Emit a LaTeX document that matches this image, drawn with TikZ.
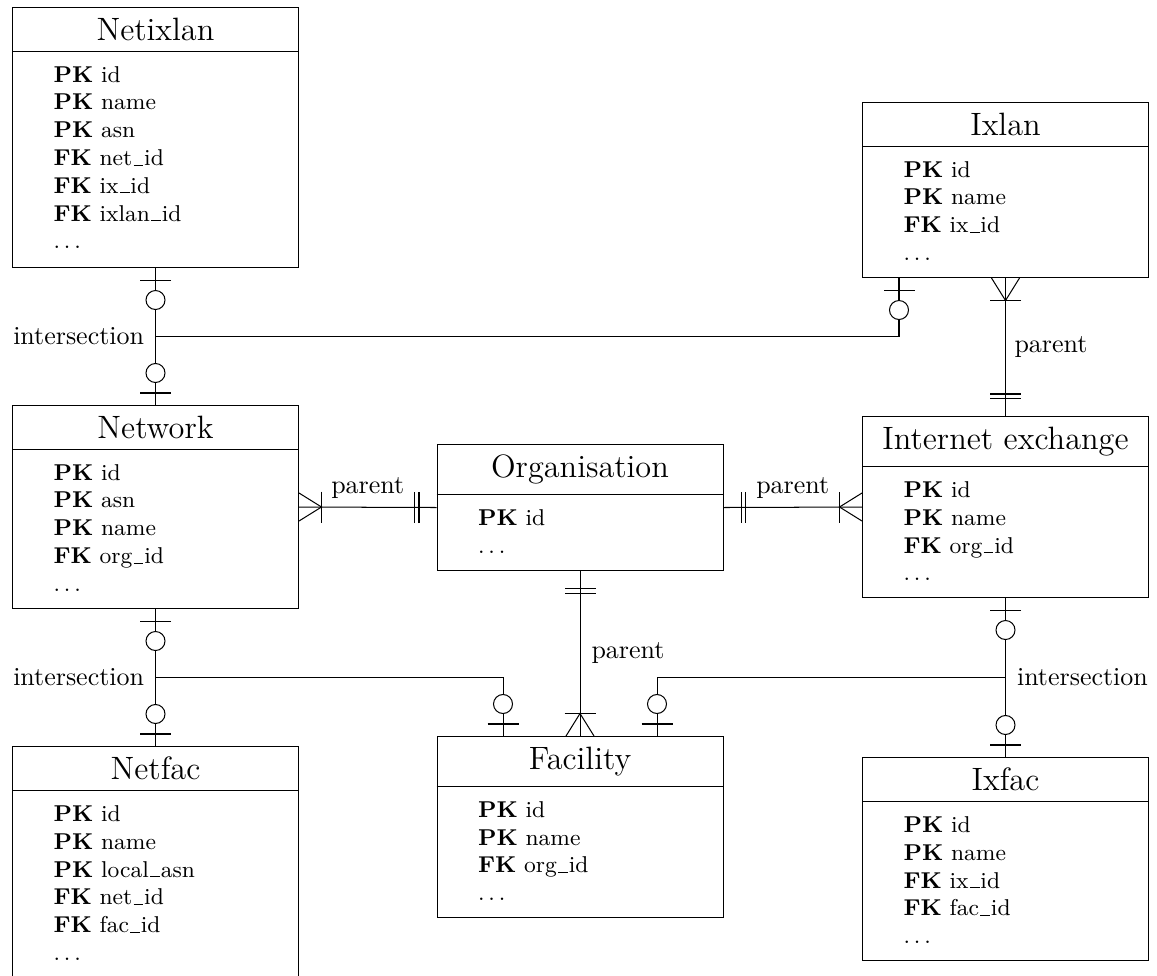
\documentclass[tikz,border=0pt]{standalone}
\usetikzlibrary{calc}

% one drawing unit, used for sizes given as lengths
\newcommand\pxu{0.393pt}
% spaced ellipsis for the "more fields" row
\newcommand\morefields{$\ldots$}
% underscore drawn as a baseline rule
\newcommand\us{\leavevmode\kern.06em\vbox{\hrule width.42em}\kern.04em}

% entity: name, top-left corner, height, title, list of fields
\newcommand\erentity[5]{%
  \node[entbox, minimum height=#3*\pxu] (#1) at (#2) {};
  \node[enttitle] (#1-title) at (#1.north) {#4};
  \coordinate (#1-sep) at (#1.west |- #1-title.south);
  \draw (#1-sep) -- (#1.east |- #1-title.south);
  \foreach \fld [count=\k] in {#5}
    \node[entfield] (#1-f\k) at ($(#1-sep)+(41,{31+27.8*(\k-1)})$) {\fld};
}

\tikzset{
  entbox/.style={draw, rectangle, inner sep=0pt, minimum width=286*\pxu, anchor=north west},
  enttitle/.style={anchor=north, font=\fontsize{12.7}{15}\selectfont, inner xsep=0pt, inner ysep=4pt},
  entfield/.style={anchor=base west, font=\small, inner sep=0pt},
  lbl/.style={font=\fontsize{10.2}{12}\selectfont},
  % cardinality marks; +x points away from the entity along the connector
  zeroone/.pic={
    \draw (12,-15.5) -- (12,15.5);
    \draw[fill=white] (32,0) circle[radius=9.5];
  },
  oneone/.pic={
    \draw (17.5,-15.5) -- (17.5,15.5) (22,-15.5) -- (22,15.5);
  },
  crowmany/.pic={
    \draw (0,-14) -- (22.5,0) -- (0,14);
    \draw (22.5,-15.5) -- (22.5,15.5);
  }
}

\begin{document}
\begin{tikzpicture}[x=0.393pt, y=-0.393pt]
\useasboundingbox (0,0) rectangle (1157,976);

% entities
\erentity{netixlan}{12,7}{260}{Netixlan}{\textbf{PK} id, \textbf{PK} name, \textbf{PK} asn, \textbf{FK} net\us id, \textbf{FK} ix\us id, \textbf{FK} ixlan\us id, \morefields}
\erentity{ixlan}{862,102}{175}{Ixlan}{\textbf{PK} id, \textbf{PK} name, \textbf{FK} ix\us id, \morefields}
\erentity{network}{12,405}{203}{Network}{\textbf{PK} id, \textbf{PK} asn, \textbf{PK} name, \textbf{FK} org\us id, \morefields}
\erentity{org}{436.5,444}{126}{Organisation}{\textbf{PK} id, \morefields}
\erentity{ix}{862,416}{181}{Internet exchange}{\textbf{PK} id, \textbf{PK} name, \textbf{FK} org\us id, \morefields}
\erentity{facility}{436.5,736}{181}{Facility}{\textbf{PK} id, \textbf{PK} name, \textbf{FK} org\us id, \morefields}
\erentity{netfac}{12,746}{231}{Netfac}{\textbf{PK} id, \textbf{PK} name, \textbf{PK} local\us asn, \textbf{FK} net\us id, \textbf{FK} fac\us id, \morefields}
\erentity{ixfac}{862,757}{203}{Ixfac}{\textbf{PK} id, \textbf{PK} name, \textbf{FK} ix\us id, \textbf{FK} fac\us id, \morefields}

% junction points and side ports
\coordinate (nxj) at ($(netixlan.south)!0.5!(network.north)$);
\coordinate (ixlan-port) at ($(ixlan.south west)+(37,0)$);
\coordinate (nfj) at ($(network.south)!0.5!(netfac.north)$);
\coordinate (ifj) at ($(ix.south)!0.5!(ixfac.north)$);
\coordinate (fac-portl) at ($(facility.north)+(-77,0)$);
\coordinate (fac-portr) at ($(facility.north)+(77,0)$);

% relationships
\draw (netixlan.south) -- (network.north);
\draw (nxj) -| (ixlan-port);
\node[lbl, anchor=east, xshift=-1pt] (lbl-nx) at (nxj) {intersection};

\draw (ixlan.south) -- node[lbl, right] (lbl-ixp) {parent} (ix.north);
\draw (network.east) -- node[lbl, above] (lbl-netp) {parent} (org.west);
\draw (org.east) -- node[lbl, above] (lbl-ixorg) {parent} (ix.west);
\draw (org.south) -- node[lbl, right, xshift=1pt] (lbl-facp) {parent} (facility.north);

\draw (network.south) -- (netfac.north);
\draw (nfj) -| (fac-portl);
\node[lbl, anchor=east, xshift=-1pt] (lbl-nf) at (nfj) {intersection};

\draw (ix.south) -- (ixfac.north);
\draw (ifj) -| (fac-portr);
\node[lbl, anchor=west, xshift=1pt] (lbl-if) at (ifj) {intersection};

% cardinality marks
\pic[rotate=-90] at (netixlan.south) {zeroone};
\pic[rotate=90] at (network.north) {zeroone};
\pic[rotate=-90] at (ixlan-port) {zeroone};
\pic[rotate=-90] at (ixlan.south) {crowmany};
\pic[rotate=90] at (ix.north) {oneone};
\pic at (network.east) {crowmany};
\pic[rotate=180] at (org.west) {oneone};
\pic at (org.east) {oneone};
\pic[rotate=180] at (ix.west) {crowmany};
\pic[rotate=-90] at (org.south) {oneone};
\pic[rotate=90] at (facility.north) {crowmany};
\pic[rotate=-90] at (network.south) {zeroone};
\pic[rotate=90] at (netfac.north) {zeroone};
\pic[rotate=90] at (fac-portl) {zeroone};
\pic[rotate=-90] at (ix.south) {zeroone};
\pic[rotate=90] at (ixfac.north) {zeroone};
\pic[rotate=90] at (fac-portr) {zeroone};
\end{tikzpicture}
\end{document}
